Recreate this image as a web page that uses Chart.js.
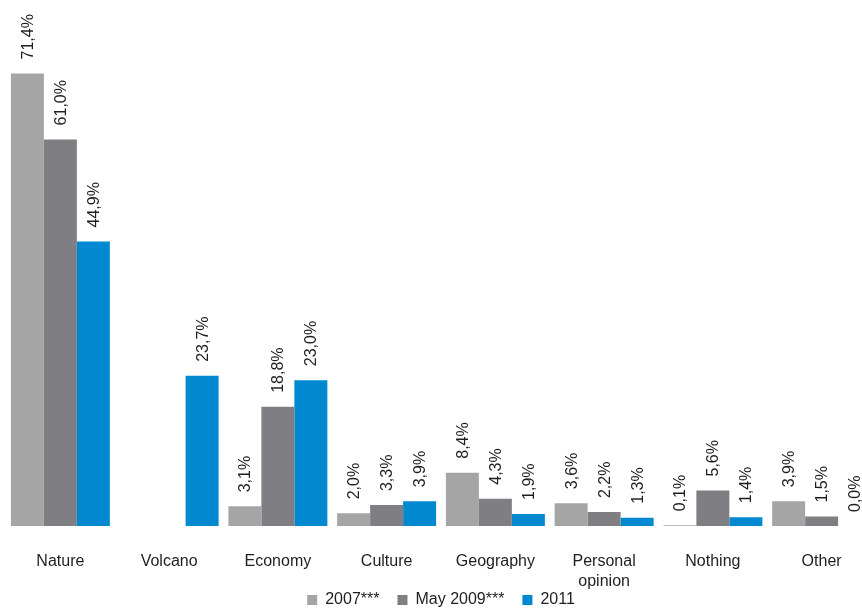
<!DOCTYPE html>
<html>
<head>
<meta charset="utf-8">
<script src="https://cdn.jsdelivr.net/npm/chart.js@4.4.1/dist/chart.umd.min.js"></script>
<style>
  html, body { margin: 0; padding: 0; background: #fff; overflow: hidden; }
  #wrap { position: absolute; left: 0; top: 0; width: 876px; height: 609px; }
</style>
</head>
<body>
<div id="wrap"><canvas id="chart"></canvas></div>
<script>
// Topics mentioned, share of answers per survey wave
const categories = ['Nature', 'Volcano', 'Economy', 'Culture', 'Geography', ['Personal', 'opinion'], 'Nothing', 'Other'];
const seriesNames = ['2007***', 'May 2009***', '2011'];
const values2007 = [71.4, null, 3.1, 2.0, 8.4, 3.6, 0.1, 3.9];
const valuesMay2009 = [61.0, null, 18.8, 3.3, 4.3, 2.2, 5.6, 1.5];
const values2011 = [44.9, 23.7, 23.0, 3.9, 1.9, 1.3, 1.4, 0.0];
const colors = ['#a5a5a5', '#7f7e82', '#0089d0'];

const FONT = '"Liberation Sans", Arial, sans-serif';
const TEXT = '#1e1e1e';

function fmt(v) {
    return v.toFixed(1).replace('.', ',') + '%';
}

// vertical value labels above each bar
const barLabels = {
    id: 'barLabels',
    afterDatasetsDraw(chart) {
        const ctx = chart.ctx;
        ctx.save();
        ctx.font = '16px ' + FONT;
        ctx.fillStyle = TEXT;
        ctx.textAlign = 'left';
        ctx.textBaseline = 'middle';
        chart.data.datasets.forEach((ds, i) => {
            const meta = chart.getDatasetMeta(i);
            meta.data.forEach((bar, j) => {
                const v = ds.data[j];
                if (v === null || v === undefined) return;
                ctx.save();
                ctx.translate(bar.x + 1, bar.y - 14);
                ctx.rotate(-Math.PI / 2);
                ctx.fillText(fmt(v), 0, 0);
                ctx.restore();
            });
        });
        ctx.restore();
    }
};

// legend sits tight under the two-line axis labels
const tightLegend = {
    id: 'tightLegend',
    afterInit(chart) {
        const legend = chart.legend;
        const fit = legend.fit;
        legend.fit = function () {
            fit.call(this);
            this.height = 17;
        };
    },
    afterLayout(chart) {
        chart.legend.top -= 18;
        chart.legend.height = chart.legend.bottom - chart.legend.top;
    }
};

const datasets = [values2007, valuesMay2009, values2011].map((d, i) => ({
    label: seriesNames[i],
    data: d,
    backgroundColor: colors[i],
    borderWidth: 0,
    categoryPercentage: 0.91,
    barPercentage: 1.0
}));

new Chart(document.getElementById('chart'), {
    type: 'bar',
    data: { labels: categories, datasets: datasets },
    options: {
        responsive: true,
        maintainAspectRatio: false,
        animation: false,
        layout: { padding: { left: 6, right: 0, top: 0, bottom: 0 } },
        plugins: {
            legend: {
                position: 'bottom',
                labels: {
                    boxWidth: 10,
                    boxHeight: 10,
                    padding: 18,
                    color: TEXT,
                    font: { family: FONT, size: 16 }
                }
            },
            tooltip: { enabled: false }
        },
        scales: {
            x: {
                grid: { display: false },
                border: { display: false },
                afterFit(scale) { scale.height = 66; },
                ticks: {
                    color: TEXT,
                    padding: 18,
                    maxRotation: 0,
                    font: { family: FONT, size: 16, lineHeight: 1.25 }
                }
            },
            y: {
                display: false,
                min: 0,
                max: 83
            }
        }
    },
    plugins: [barLabels, tightLegend]
});
</script>
</body>
</html>
